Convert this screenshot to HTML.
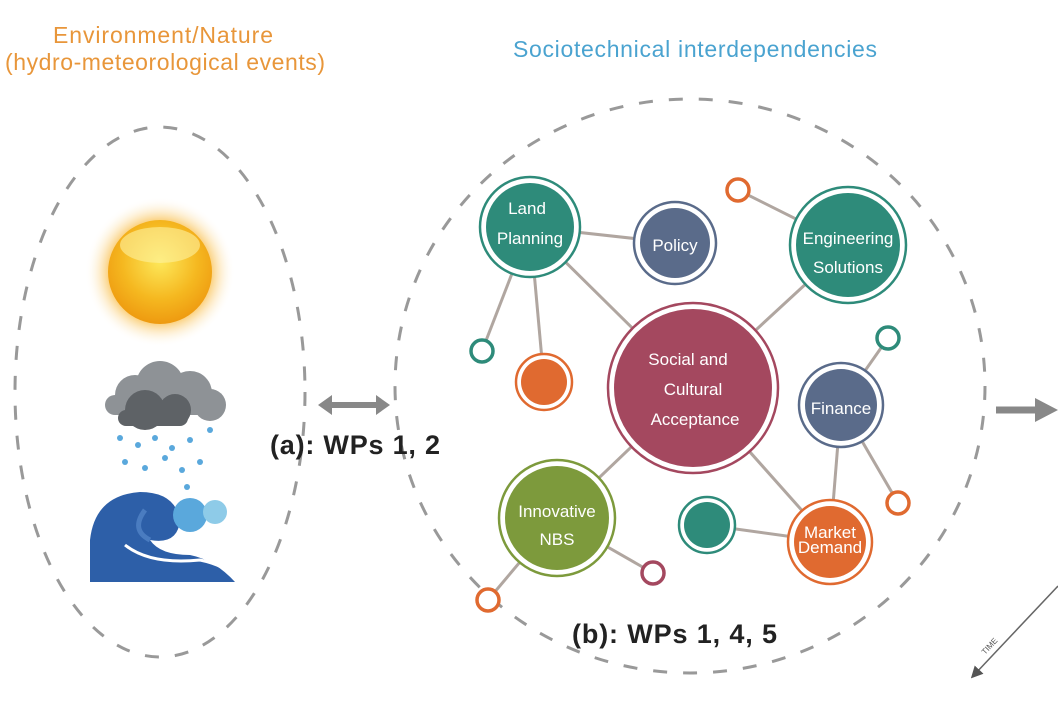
<!DOCTYPE html>
<html><head><meta charset="utf-8"><style>
body{margin:0;background:#fff;width:1058px;height:706px;overflow:hidden}
svg{display:block}
text{font-family:"Liberation Sans",sans-serif}
.n{fill:#fff;font-size:17px;text-anchor:middle}
</style></head><body>
<svg width="1058" height="706" viewBox="0 0 1058 706">
<defs>
<radialGradient id="sun" cx="50%" cy="40%" r="60%"><stop offset="0" stop-color="#fde85a"/><stop offset="0.6" stop-color="#f5b820"/><stop offset="1" stop-color="#ee9a10"/></radialGradient>
<radialGradient id="glow"><stop offset="0.7" stop-color="#fbd58a"/><stop offset="1" stop-color="#fff" stop-opacity="0"/></radialGradient>
<marker id="ah" markerWidth="8" markerHeight="8" refX="4" refY="4" orient="auto"><path d="M0,0 L8,4 L0,8 z" fill="#555"/></marker>
</defs>
<text x="163" y="43" fill="#e8963a" font-size="23" text-anchor="middle" textLength="220">Environment/Nature</text>
<text x="165" y="70" fill="#e8963a" font-size="23" text-anchor="middle" textLength="320">(hydro-meteorological events)</text>
<text x="695" y="57" fill="#4aa3d0" font-size="23" text-anchor="middle" textLength="364">Sociotechnical interdependencies</text>
<ellipse cx="160" cy="392" rx="145" ry="265" fill="none" stroke="#999" stroke-width="3" stroke-dasharray="14 16"/>
<ellipse cx="690" cy="386" rx="295" ry="287" fill="none" stroke="#999" stroke-width="3" stroke-dasharray="14 16"/>
<circle cx="160" cy="272" r="75" fill="url(#glow)"/>
<circle cx="160" cy="272" r="52" fill="url(#sun)"/>
<ellipse cx="160" cy="245" rx="40" ry="18" fill="#fdf2a0" opacity="0.6"/>
<g fill="#8e9296">
<circle cx="135" cy="395" r="20"/><circle cx="160" cy="385" r="24"/><circle cx="190" cy="393" r="22"/><circle cx="210" cy="405" r="16"/><rect x="105" y="395" width="120" height="20" rx="10"/>
</g>
<g fill="#5e6266"><circle cx="145" cy="410" r="20"/><circle cx="175" cy="410" r="16"/><rect x="118" y="410" width="70" height="16" rx="8"/></g>
<g fill="#5aa8dc">
<circle cx="120" cy="438" r="3"/><circle cx="138" cy="445" r="3"/><circle cx="155" cy="438" r="3"/><circle cx="172" cy="448" r="3"/><circle cx="190" cy="440" r="3"/><circle cx="210" cy="430" r="3"/><circle cx="125" cy="462" r="3"/><circle cx="145" cy="468" r="3"/><circle cx="165" cy="458" r="3"/><circle cx="182" cy="470" r="3"/><circle cx="200" cy="462" r="3"/><circle cx="187" cy="487" r="3"/>
</g>
<path d="M90,582 L90,540 Q95,495 140,492 Q175,492 180,520 Q178,545 150,540 Q160,555 190,555 Q215,560 235,582 Z" fill="#2d5fa8"/>
<circle cx="190" cy="515" r="17" fill="#5aa8dc"/><circle cx="215" cy="512" r="12" fill="#8ecbe8"/>
<path d="M125,545 Q150,565 200,560 Q225,565 240,580" stroke="#fff" stroke-width="3" fill="none"/>
<path d="M145,510 Q130,530 150,540" stroke="#4a7cc0" stroke-width="5" fill="none"/>
<line x1="328" y1="405" x2="380" y2="405" stroke="#888" stroke-width="6"/>
<path d="M318,405 L332,395 L332,415 Z M390,405 L376,395 L376,415 Z" fill="#888"/>
<text x="270" y="454" font-size="27" font-weight="bold" fill="#222" textLength="170">(a): WPs 1, 2</text>
<g stroke="#b0a6a0" stroke-width="3">
<line x1="530" y1="227" x2="675" y2="243"/><line x1="530" y1="227" x2="693" y2="388"/><line x1="530" y1="227" x2="482" y2="351"/><line x1="530" y1="227" x2="544" y2="382"/>
<line x1="848" y1="245" x2="693" y2="388"/><line x1="848" y1="245" x2="738" y2="190"/>
<line x1="693" y1="388" x2="557" y2="518"/><line x1="693" y1="388" x2="830" y2="542"/>
<line x1="841" y1="405" x2="888" y2="338"/><line x1="841" y1="405" x2="830" y2="542"/><line x1="841" y1="405" x2="898" y2="503"/>
<line x1="557" y1="518" x2="488" y2="600"/><line x1="557" y1="518" x2="653" y2="573"/><line x1="707" y1="525" x2="830" y2="542"/>
</g>
<g stroke-width="2.5">
<circle cx="530" cy="227" r="50" fill="#fff" stroke="#2e8b7a"/><circle cx="530" cy="227" r="44" fill="#2e8b7a"/>
<circle cx="675" cy="243" r="41" fill="#fff" stroke="#5a6b8a"/><circle cx="675" cy="243" r="35" fill="#5a6b8a"/>
<circle cx="848" cy="245" r="58" fill="#fff" stroke="#2e8b7a"/><circle cx="848" cy="245" r="52" fill="#2e8b7a"/>
<circle cx="693" cy="388" r="85" fill="#fff" stroke="#a4485f"/><circle cx="693" cy="388" r="79" fill="#a4485f"/>
<circle cx="841" cy="405" r="42" fill="#fff" stroke="#5a6b8a"/><circle cx="841" cy="405" r="36" fill="#5a6b8a"/>
<circle cx="557" cy="518" r="58" fill="#fff" stroke="#7d9a3c"/><circle cx="557" cy="518" r="52" fill="#7d9a3c"/>
<circle cx="830" cy="542" r="42" fill="#fff" stroke="#e06a30"/><circle cx="830" cy="542" r="36" fill="#e06a30"/>
<circle cx="707" cy="525" r="28" fill="#fff" stroke="#2e8b7a"/><circle cx="707" cy="525" r="23" fill="#2e8b7a"/>
<circle cx="544" cy="382" r="28" fill="#fff" stroke="#e06a30"/><circle cx="544" cy="382" r="23" fill="#e06a30"/>
</g>
<g fill="#fff" stroke-width="3.5">
<circle cx="738" cy="190" r="11" stroke="#e06a30"/><circle cx="482" cy="351" r="11" stroke="#2e8b7a"/><circle cx="888" cy="338" r="11" stroke="#2e8b7a"/><circle cx="898" cy="503" r="11" stroke="#e06a30"/><circle cx="653" cy="573" r="11" stroke="#a4485f"/><circle cx="488" cy="600" r="11" stroke="#e06a30"/>
</g>
<text class="n" x="527" y="214">Land</text><text class="n" x="530" y="244">Planning</text>
<text class="n" x="675" y="251" font-size="19">Policy</text>
<text class="n" x="848" y="244">Engineering</text><text class="n" x="848" y="273">Solutions</text>
<text class="n" x="688" y="365" font-size="19">Social and</text><text class="n" x="693" y="395" font-size="19">Cultural</text><text class="n" x="695" y="425" font-size="19">Acceptance</text>
<text class="n" x="841" y="414" font-size="18">Finance</text>
<text class="n" x="557" y="517">Innovative</text><text class="n" x="557" y="545">NBS</text>
<text class="n" x="830" y="538" font-size="13">Market</text><text class="n" x="830" y="553" font-size="13">Demand</text>
<text x="572" y="643" font-size="27" font-weight="bold" fill="#222" textLength="205">(b): WPs 1, 4, 5</text>
<line x1="996" y1="410" x2="1040" y2="410" stroke="#888" stroke-width="7"/>
<path d="M1035,398 L1058,410 L1035,422 Z" fill="#888"/>
<line x1="1058" y1="586" x2="975" y2="674" stroke="#666" stroke-width="1.5" marker-end="url(#ah)"/>
<text x="0" y="0" font-size="8" fill="#555" transform="translate(985,655) rotate(-47)">TIME</text>
</svg>
</body></html>
